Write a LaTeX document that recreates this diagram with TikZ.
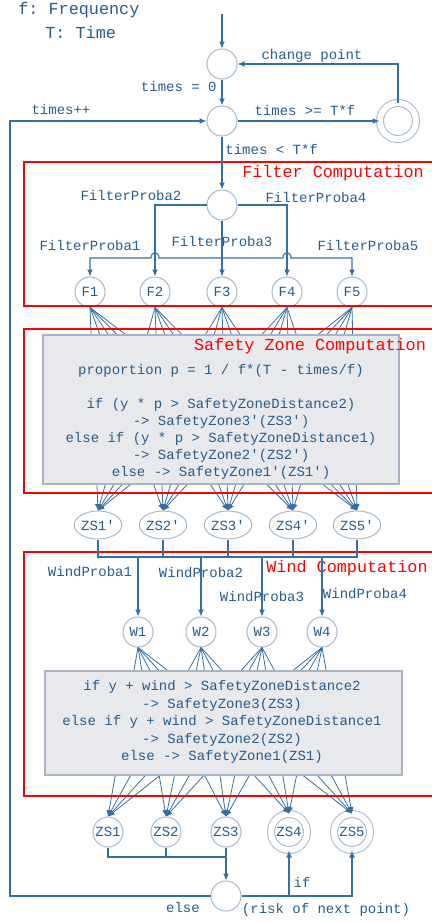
\documentclass[tikz,border=0pt]{standalone}
\usepackage{fontspec}
\setmonofont{Liberation Mono}
\usepackage{tikz}
\usetikzlibrary{arrows.meta,shapes.geometric,positioning}
\definecolor{lineblue}{RGB}{50,112,166}
\definecolor{textblue}{RGB}{38,92,140}
\definecolor{circline}{RGB}{165,184,204}
\definecolor{boxfill}{RGB}{231,233,237}
\definecolor{boxline}{RGB}{168,180,196}

\begin{document}
\begin{tikzpicture}[x=0.5pt,y=-0.5pt,
    lbl/.style={text=textblue,font=\ttfamily\fontsize{7}{8.5}\selectfont,inner sep=0pt},
    ttl/.style={text=red,font=\ttfamily\fontsize{8.4}{10}\selectfont,inner sep=0pt},
    state/.style={lbl,circle,draw=circline,fill=white,line width=0.5pt,minimum size=15pt,inner sep=0pt},
    accept/.style={state,minimum size=18pt,double=white,double distance=3pt},
    zsnode/.style={lbl,ellipse,draw=circline,fill=white,line width=0.5pt,minimum width=20.5pt,minimum height=14pt,inner sep=0pt},
    flow/.style={draw=lineblue,line width=0.55pt,-{Latex[length=3.5pt,width=3pt]}},
    wire/.style={draw=lineblue,line width=0.55pt},
    fan/.style={draw=lineblue,line width=0.4pt,-{Latex[length=3.2pt,width=2.8pt]}},
    redbox/.style={draw=red,line width=1pt},
    greybox/.style={draw=boxline,fill=boxfill,line width=0.6pt}]
    \useasboundingbox (0,0) rectangle (432,922);
    %%Legend
    \node[lbl,anchor=west,font=\ttfamily\fontsize{8.4}{10}\selectfont] (legf) at (18,10) {f: Frequency};
    \node[lbl,anchor=west,font=\ttfamily\fontsize{8.4}{10}\selectfont] (legt) at (45,32) {T: Time};
    %%States
    \coordinate (entry) at (222,14);
    \node[state] (start) at (222,64) {};
    \node[state] (loop) at (222,121) {};
    \node[accept] (done) at (398,121) {};
    \node[state] (filt) at (222,205) {};
    \node[state] (risk) at (226,896) {};
    %%Filter nodes
    \foreach \i/\x in {1/90,2/155,3/222,4/287,5/352}
        \node[state] (F\i) at (\x,292) {F\i};
    %%Safety zone nodes
    \foreach \i/\x in {1/98,2/163,3/228,4/293,5/357}
        \node[zsnode] (ZSp\i) at (\x,525) {ZS\i'};
    %%Wind nodes
    \foreach \i/\x in {1/138,2/201,3/262,4/322}
        \node[state] (W\i) at (\x,632) {W\i};
    %%Final zones
    \foreach \i/\x in {1/108,2/166,3/226}
        \node[state] (ZS\i) at (\x,832) {ZS\i};
    \foreach \i/\x in {4/289,5/352}
        \node[accept] (ZS\i) at (\x,832) {ZS\i};
    %%Fans
    \foreach \i in {1,...,5}
        \foreach \j in {1,...,5}
            \draw[fan] (F\i.south) -- (ZSp\j.north);
    \foreach \i in {1,...,4}
        \foreach \j in {1,...,5}
            \draw[fan] (W\i.south) -- (ZS\j.north);
    %%Red frames
    \draw[redbox] (445,162) -| (24,306) -- (445,306);
    \draw[redbox] (445,329) -| (24,493) -- (445,493);
    \draw[redbox] (445,552) -| (24,796) -- (445,796);
    %%Grey boxes
    \draw[greybox] (43,335) rectangle (399,484);
    \draw[greybox] (45,671) rectangle (402,775);
    \node[lbl,align=center] (sztext) at (221,421.5) {proportion p = 1 / f*(T - times/f)\\[8.5pt]
        if (y * p > SafetyZoneDistance2)\\
        -> SafetyZone3'(ZS3')\\
        else if (y * p > SafetyZoneDistance1)\\
        -> SafetyZone2'(ZS2')\\
        else -> SafetyZone1'(ZS1')};
    \node[lbl,align=center,font=\ttfamily\fontsize{7}{8.75}\selectfont] (wdtext) at (222,722) {if y + wind > SafetyZoneDistance2\\
        -> SafetyZone3(ZS3)\\
        else if y + wind > SafetyZoneDistance1\\
        -> SafetyZone2(ZS2)\\
        else -> SafetyZone1(ZS1)};
    %%Titles
    \node[ttl] (ttlfilter) at (333,173) {Filter Computation};
    \node[ttl] (ttlsafety) at (310,346) {Safety Zone Computation};
    \node[ttl] (ttlwind) at (347,568) {Wind Computation};
    %%Control flow
    \draw[flow] (entry) -- (start);
    \draw[flow] (start) -- (loop);
    \draw[flow] (loop) -- (done);
    \draw[flow] (done.north) |- (start.east);
    \draw[flow] (loop) -- (filt);
    \node[lbl,anchor=east] (lzero) at (217,86) {times = 0};
    \node[lbl] (lchange) at (312,56) {change point};
    \node[lbl] (lge) at (305,110) {times >= T*f};
    \node[lbl,anchor=west] (llt) at (225,149) {times < T*f};
    \node[lbl] (lplus) at (61,109) {times++};
    %%Filter branches
    \coordinate (fbus) at (0,258);
    \draw[flow] (filt.west) -| (F2);
    \draw[flow] (filt.east) -| (F4);
    \draw[flow] (filt) -- (F3);
    \draw[flow] (F3 |- fbus) -- (159,258) .. controls (159,251) and (151,251) .. (151,258) -| (F1);
    \draw[flow] (F3 |- fbus) -- (283,258) .. controls (283,251) and (291,251) .. (291,258) -| (F5);
    \node[lbl] (fp2) at (131,195) {FilterProba2};
    \node[lbl] (fp4) at (316,197) {FilterProba4};
    \node[lbl] (fp1) at (90,245) {FilterProba1};
    \node[lbl] (fp3) at (222,241) {FilterProba3};
    \node[lbl] (fp5) at (368,245) {FilterProba5};
    %%Wind branches
    \coordinate (zbus) at (0,557);
    \draw[wire] (ZSp1.south) |- (ZSp5.south |- zbus) -- (ZSp5.south);
    \foreach \j in {2,3,4}
        \draw[wire] (ZSp\j.south) -- (ZSp\j.south |- zbus);
    \foreach \k in {1,...,4}
        \draw[flow] (W\k |- zbus) -- (W\k);
    \node[lbl] (wp1) at (90,572) {WindProba1};
    \node[lbl] (wp2) at (201,573) {WindProba2};
    \node[lbl] (wp3) at (262,597) {WindProba3};
    \node[lbl] (wp4) at (365,594) {WindProba4};
    %%Risk of next point
    \coordinate (jbus) at (0,857);
    \coordinate (lft) at (10,896);
    \draw[wire] (ZS1) |- (ZS3 |- jbus);
    \draw[wire] (ZS2) -- (ZS2 |- jbus);
    \draw[flow] (ZS3) -- (risk);
    \draw[flow] (risk.east) -| (ZS5);
    \draw[flow] (ZS4 |- risk) -- (ZS4);
    \draw[flow] (risk.west) -- (lft) |- (loop.west);
    \node[lbl] (lif) at (302,882) {if};
    \node[lbl] (lelse) at (183,907) {else};
    \node[lbl] (lrisk) at (326,910) {(risk of next point)};
\end{tikzpicture}
\end{document}
